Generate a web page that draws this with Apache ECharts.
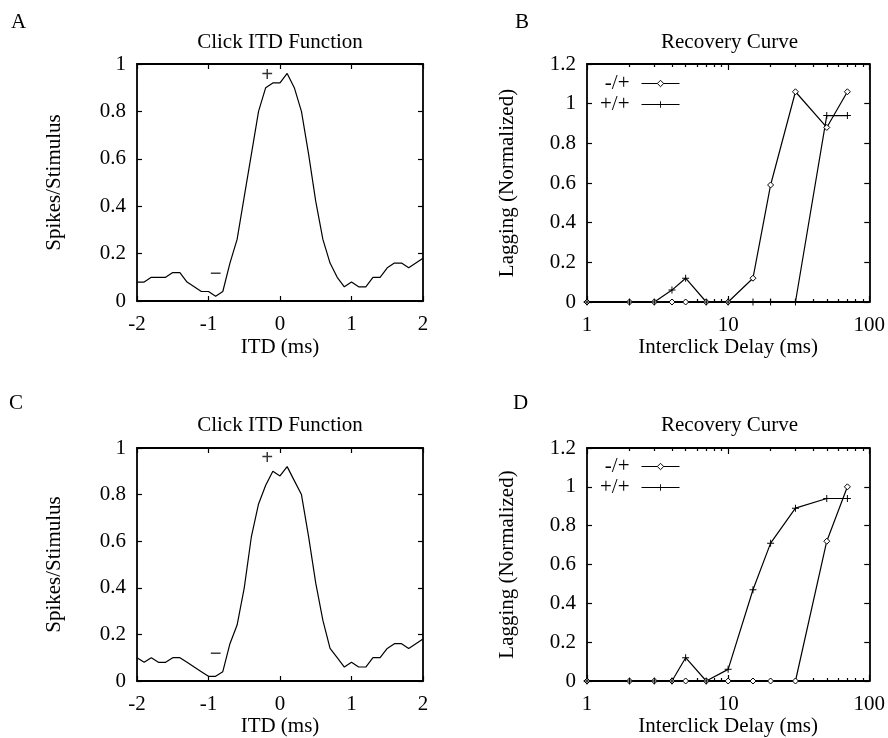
<!DOCTYPE html>
<html><head><meta charset="utf-8">
<script src="https://cdn.jsdelivr.net/npm/echarts@6/dist/echarts.min.js"></script>
<style>html,body{margin:0;padding:0;background:#fff}#c{width:888px;height:738px}</style>
</head><body><div id="c"></div>
<script>
// ---------- data ----------
const itdMs = [-2.0,-1.9,-1.8,-1.7,-1.6,-1.5,-1.4,-1.3,-1.2,-1.1,-1.0,-0.9,-0.8,-0.7,-0.6,-0.5,-0.4,-0.3,-0.2,-0.1,0.0,0.1,0.2,0.3,0.4,0.5,0.6,0.7,0.8,0.9,1.0,1.1,1.2,1.3,1.4,1.5,1.6,1.7,1.8,1.9,2.0];
const spikesA = [0.08,0.08,0.10,0.10,0.10,0.12,0.12,0.08,0.06,0.04,0.04,0.02,0.04,0.16,0.26,0.44,0.62,0.80,0.90,0.92,0.92,0.96,0.90,0.80,0.62,0.42,0.26,0.16,0.10,0.06,0.08,0.06,0.06,0.10,0.10,0.14,0.16,0.16,0.14,0.16,0.18];
const spikesC = [0.10,0.08,0.10,0.08,0.08,0.10,0.10,0.08,0.06,0.04,0.02,0.02,0.04,0.16,0.24,0.40,0.62,0.76,0.84,0.90,0.88,0.92,0.86,0.80,0.62,0.42,0.26,0.14,0.10,0.06,0.08,0.06,0.06,0.10,0.10,0.14,0.16,0.16,0.14,0.16,0.18];
const delayMs = [1,2,3,4,5,7,10,15,20,30,50,70];
const lagMinusPlusB = [0,0,0,0,0,0,0,0.12,0.59,1.06,0.88,1.06];
const lagPlusPlusB  = [0,0,0,0.06,0.12,0,0,0,0,0,0.94,0.94];
const lagMinusPlusD = [0,0,0,0,0,0,0,0,0,0,0.72,1.00];
const lagPlusPlusD  = [0,0,0,0,0.12,0,0.06,0.47,0.71,0.89,0.94,0.94];
const seriesNames = ['-/+','+/+'];
const logMinorTicks = [2,3,4,5,6,7,8,9,20,30,40,50,60,70,80,90];
const marksA = [{name:'+', value:[-0.18,0.95]},{name:'\u2212', value:[-0.9,0.11]}];
const marksC = [{name:'+', value:[-0.18,0.955]},{name:'\u2212', value:[-0.9,0.113]}];
const panelLetters = ['A','B','C','D'];
const itdTitle = 'Click ITD Function';
const recTitle = 'Recovery Curve';

// ---------- styling ----------
const FONT = 'Liberation Serif';
const FS = 21;
const BLACK = '#000';
const zip = (xs, ys) => xs.map((x, i) => [x, ys[i]]);
const axisLine = {show:true, onZero:false, lineStyle:{color:BLACK, width:1.8}};
const tick = (len) => ({show:true, inside:true, length:len, lineStyle:{color:BLACK, width:1.2}});
const lbl = (margin) => ({show:true, margin, color:BLACK, fontFamily:FONT, fontSize:FS});
const nameStyle = {color:BLACK, fontFamily:FONT, fontSize:FS};

const grids = [
  {left:137, top:64, width:286, height:237},
  {left:587, top:64, width:285, height:238},
  {left:137, top:448, width:286, height:235},
  {left:587, top:448, width:285, height:235}
];

const xAxes = [];
const yAxes = [];
function linX(g, pos, withLabel) {
  xAxes.push({gridIndex:g, type:'value', position:pos, min:-2, max:2, interval:1,
    axisLine, axisTick:tick(5), splitLine:{show:false},
    axisLabel: withLabel ? lbl(13) : {show:false},
    name: withLabel ? 'ITD (ms)' : '', nameLocation:'middle', nameGap: g===0?36:35, nameTextStyle:nameStyle});
  return xAxes.length - 1;
}
function logX(g, pos, withLabel) {
  xAxes.push({gridIndex:g, type:'log', logBase:10, position:pos, min:1, max:100,
    axisLine, axisTick:tick(6), splitLine:{show:false}, minorTick:{show:false},
    axisLabel: withLabel ? lbl(13) : {show:false},
    name: withLabel ? 'Interclick Delay (ms)' : '', nameLocation:'middle', nameGap:35, nameTextStyle:nameStyle});
  const idx = xAxes.length - 1;
  xAxes.push({gridIndex:g, type:'log', logBase:10, position:pos, min:1, max:100,
    axisLine:{show:false, onZero:false}, splitLine:{show:false},
    axisTick:Object.assign(tick(3), {customValues:logMinorTicks}),
    axisLabel:{show:false}});
  return idx;
}
function valY(g, pos, max, withLabel, name, gap) {
  yAxes.push({gridIndex:g, type:'value', position:pos, min:0, max, interval:0.2,
    axisLine, axisTick:tick(5), splitLine:{show:false},
    axisLabel: withLabel ? lbl(11) : {show:false},
    name: withLabel ? name : '', nameLocation:'middle', nameGap:gap, nameTextStyle:nameStyle});
  return yAxes.length - 1;
}

// Panel A
const axA = linX(0,'bottom',true); linX(0,'top',false);
const ayA = valY(0,'left',1,true,'Spikes/Stimulus',72); valY(0,'right',1,false);
// Panel B
const axB = logX(1,'bottom',true); logX(1,'top',false);
const ayB = valY(1,'left',1.2,true,'Lagging (Normalized)',69); valY(1,'right',1.2,false);
// Panel C
const axC = linX(2,'bottom',true); linX(2,'top',false);
const ayC = valY(2,'left',1,true,'Spikes/Stimulus',72); valY(2,'right',1,false);
// Panel D
const axD = logX(3,'bottom',true); logX(3,'top',false);
const ayD = valY(3,'left',1.2,true,'Lagging (Normalized)',69); valY(3,'right',1.2,false);

const plusPath = 'path://M4.3,0H5.7V4.3H10V5.7H5.7V10H4.3V5.7H0V4.3H4.3Z';
const lineStyle = {color:BLACK, width:1.2};
const openStyle = {color:'#fff', borderColor:BLACK, borderWidth:1};
function itdSeries(xi, yi, ys) {
  return {type:'line', xAxisIndex:xi, yAxisIndex:yi, data:zip(itdMs, ys), showSymbol:false,
    symbol:'none', lineStyle, itemStyle:{color:BLACK}, silent:true, animation:false};
}
function markSeries(xi, yi, marks) {
  return {type:'scatter', xAxisIndex:xi, yAxisIndex:yi, data:marks, symbolSize:0, silent:true,
    label:{show:true, position:'inside', formatter:'{b}', color:BLACK, fontFamily:FONT, fontSize:FS, fontWeight:'bold'},
    animation:false};
}
function minusPlus(xi, yi, ys) {
  return {name:seriesNames[0], type:'line', xAxisIndex:xi, yAxisIndex:yi, data:zip(delayMs, ys),
    symbol:'diamond', symbolSize:6, showAllSymbol:true, lineStyle,
    itemStyle:openStyle, animation:false};
}
function plusPlus(xi, yi, ys) {
  return {name:seriesNames[1], type:'line', xAxisIndex:xi, yAxisIndex:yi, data:zip(delayMs, ys),
    symbol:plusPath, symbolSize:7, showAllSymbol:true, lineStyle,
    itemStyle:{color:BLACK, borderWidth:0}, animation:false};
}

const series = [
  itdSeries(axA, ayA, spikesA), markSeries(axA, ayA, marksA),
  minusPlus(axB, ayB, lagMinusPlusB), plusPlus(axB, ayB, lagPlusPlusB),
  itdSeries(axC, ayC, spikesC), markSeries(axC, ayC, marksC),
  minusPlus(axD, ayD, lagMinusPlusD), plusPlus(axD, ayD, lagPlusPlusD)
];

const titleText = {color:BLACK, fontFamily:FONT, fontSize:FS, fontWeight:'normal'};
const titles = [
  {text:panelLetters[0], left:11, top:12},
  {text:panelLetters[1], left:515, top:12},
  {text:panelLetters[2], left:9, top:393},
  {text:panelLetters[3], left:513, top:393},
  {text:itdTitle, left:280, top:32, textAlign:'center'},
  {text:recTitle, left:729.5, top:32, textAlign:'center'},
  {text:itdTitle, left:280, top:415, textAlign:'center'},
  {text:recTitle, left:729.5, top:415, textAlign:'center'}
].map(t => Object.assign({padding:0, textStyle:titleText}, t));

function legendAt(top) {
  return {orient:'vertical', left:600, top, align:'right', itemWidth:38, itemHeight:8, itemGap:0,
    selectedMode:false, padding:0,
    lineStyle:{color:BLACK, width:1.2},
    data:[
      {name:seriesNames[0], itemStyle:openStyle},
      {name:seriesNames[1], itemStyle:{color:BLACK, borderWidth:0}}
    ],
    textStyle:{color:BLACK, fontFamily:FONT, fontSize:FS, padding:[0,7,0,0]}};
}

const chart = echarts.init(document.getElementById('c'), null, {renderer:'canvas'});
chart.setOption({
  animation:false,
  backgroundColor:'#fff',
  textStyle:{fontFamily:FONT, color:BLACK},
  title:titles,
  legend:[legendAt(73), legendAt(456)],
  grid:grids,
  xAxis:xAxes,
  yAxis:yAxes,
  series
});
</script></body></html>
